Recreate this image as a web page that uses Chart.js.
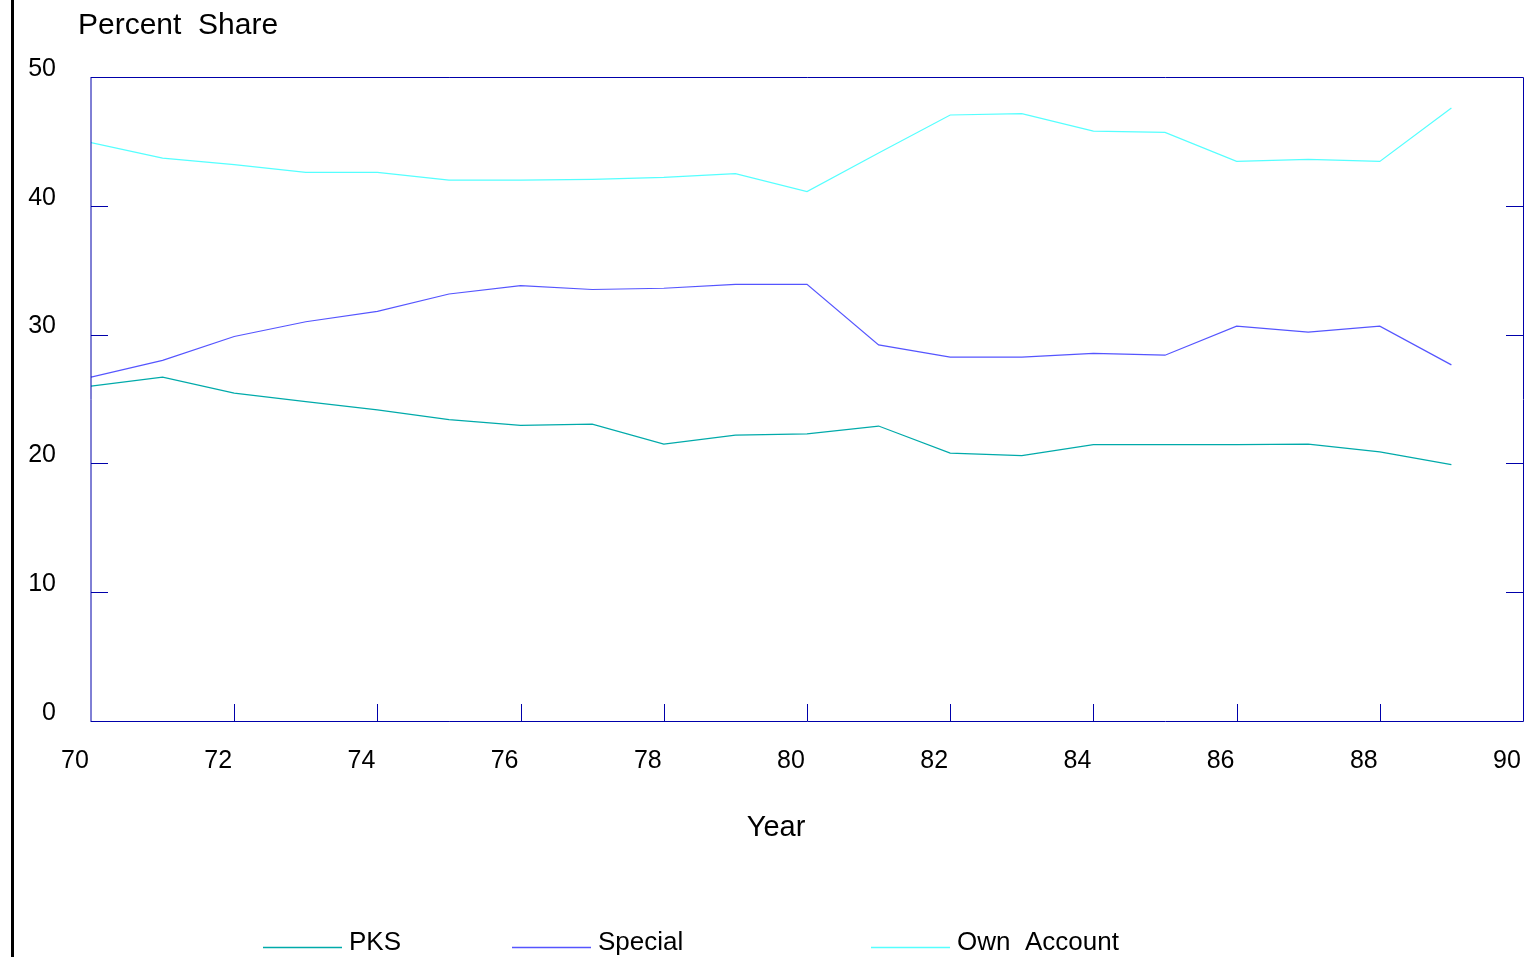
<!DOCTYPE html>
<html>
<head>
<meta charset="utf-8">
<title>Percent Share</title>
<script src="https://cdn.jsdelivr.net/npm/chart.js@4.4.1/dist/chart.umd.min.js"></script>
<style>
  html, body { margin: 0; padding: 0; background: #fff; }
  #wrap { position: relative; width: 1525px; height: 957px; }
</style>
</head>
<body>
<div id="wrap"><canvas id="shareChart" width="1525" height="957"></canvas></div>
<script>
// data
const years = [70, 71, 72, 73, 74, 75, 76, 77, 78, 79, 80, 81, 82, 83, 84, 85, 86, 87, 88, 89];
const pks = [26.0, 26.7, 25.45, 24.8, 24.15, 23.4, 22.95, 23.05, 21.5, 22.2, 22.3, 22.9, 20.8, 20.6, 21.45, 21.45, 21.45, 21.5, 20.9, 19.9];
const special = [26.7, 28.0, 29.85, 31.0, 31.8, 33.15, 33.8, 33.5, 33.6, 33.9, 33.9, 29.2, 28.25, 28.25, 28.55, 28.4, 30.65, 30.2, 30.65, 27.65];
const ownAccount = [44.9, 43.7, 43.2, 42.6, 42.6, 42.0, 42.0, 42.05, 42.2, 42.5, 41.1, 44.1, 47.05, 47.15, 45.8, 45.7, 43.45, 43.6, 43.45, 47.6];

const seriesNames = ["PKS", "Special", "Own  Account"];
const seriesColors = ["#00AAAA", "#5555FF", "#55FFFF"];
const xTicks = [70, 72, 74, 76, 78, 80, 82, 84, 86, 88, 90];
const yTicks = [0, 10, 20, 30, 40, 50];

const FONT = "'Liberation Sans', Arial, Helvetica, sans-serif";
const AXIS_BLUE = "#0000AA";

function toPoints(values) {
  return years.map((yr, i) => ({ x: yr, y: values[i] }));
}

// frame, inward tick marks, titles and legend
const decorations = {
  id: 'decorations',
  afterDatasetsDraw(chart) {
    const ctx = chart.ctx;
    const a = chart.chartArea;
    const xs = chart.scales.x;
    const ys = chart.scales.y;
    ctx.save();

    // black rule at the left edge of the page
    ctx.fillStyle = "#000";
    ctx.fillRect(11, 0, 3, chart.height);

    // plot frame
    ctx.strokeStyle = AXIS_BLUE;
    ctx.lineWidth = 1;
    ctx.beginPath();
    ctx.moveTo(a.left, a.top + 0.5);
    ctx.lineTo(a.right + 0.5, a.top + 0.5);
    ctx.lineTo(a.right + 0.5, a.bottom + 0.5);
    ctx.lineTo(a.left, a.bottom + 0.5);
    ctx.stroke();
    ctx.beginPath();
    ctx.moveTo(a.left, a.top);
    ctx.lineTo(a.left, a.bottom + 1);
    ctx.stroke();

    // tick marks pointing inwards
    ctx.beginPath();
    yTicks.slice(1, -1).forEach(v => {
      const py = Math.round(ys.getPixelForValue(v)) + 0.5;
      ctx.moveTo(a.left, py); ctx.lineTo(a.left + 17, py);
      ctx.moveTo(a.right - 17, py); ctx.lineTo(a.right, py);
    });
    xTicks.slice(1, -1).forEach(v => {
      const px = Math.round(xs.getPixelForValue(v)) + 0.5;
      ctx.moveTo(px, a.bottom); ctx.lineTo(px, a.bottom - 17);
    });
    ctx.stroke();

    // titles
    ctx.fillStyle = "#000";
    ctx.textBaseline = "alphabetic";
    ctx.font = "30px " + FONT;
    ctx.textAlign = "left";
    ctx.fillText("Percent  Share", 78, 34);
    ctx.font = "29px " + FONT;
    ctx.textAlign = "center";
    ctx.fillText("Year", 776, 836);

    // legend
    const legendX = [263, 512, 871];
    ctx.font = "26px " + FONT;
    ctx.textAlign = "left";
    chart.data.datasets.forEach((ds, i) => {
      ctx.strokeStyle = seriesColors[i];
      ctx.lineWidth = 1.3;
      ctx.beginPath();
      ctx.moveTo(legendX[i], 947.5);
      ctx.lineTo(legendX[i] + 79, 947.5);
      ctx.stroke();
      ctx.fillStyle = "#000";
      ctx.fillText(ds.label, legendX[i] + 86, 950);
    });

    ctx.restore();
  }
};

const ctx = document.getElementById('shareChart').getContext('2d');

new Chart(ctx, {
  type: 'line',
  data: {
    datasets: [pks, special, ownAccount].map((vals, i) => ({
      label: seriesNames[i],
      data: toPoints(vals),
      borderColor: seriesColors[i],
      backgroundColor: seriesColors[i],
      borderWidth: 1.2,
      pointRadius: 0,
      tension: 0,
      fill: false
    }))
  },
  options: {
    responsive: false,
    animation: false,
    devicePixelRatio: 1,
    layout: { padding: { top: 77, right: 2, left: 0, bottom: 0 } },
    plugins: {
      legend: { display: false },
      title: { display: false },
      tooltip: { enabled: false }
    },
    scales: {
      x: {
        type: 'linear',
        min: 70,
        max: 90,
        afterBuildTicks: s => { s.ticks = xTicks.map(v => ({ value: v })); },
        afterFit: s => { s.height = 236; s.paddingLeft = 0; s.paddingRight = 0; },
        grid: { display: false, drawTicks: false },
        border: { display: false },
        ticks: {
          autoSkip: false,
          maxRotation: 0,
          padding: 25,
          labelOffset: -16,
          color: "#000",
          font: { family: FONT, size: 25 }
        }
      },
      y: {
        type: 'linear',
        min: 0,
        max: 50,
        afterBuildTicks: s => { s.ticks = yTicks.map(v => ({ value: v })); },
        afterFit: s => { s.width = 91; s.paddingTop = 0; s.paddingBottom = 0; },
        grid: { display: false, drawTicks: false },
        border: { display: false },
        ticks: {
          padding: 35,
          labelOffset: -8,
          color: "#000",
          font: { family: FONT, size: 25 }
        }
      }
    }
  },
  plugins: [decorations]
});
</script>
</body>
</html>
